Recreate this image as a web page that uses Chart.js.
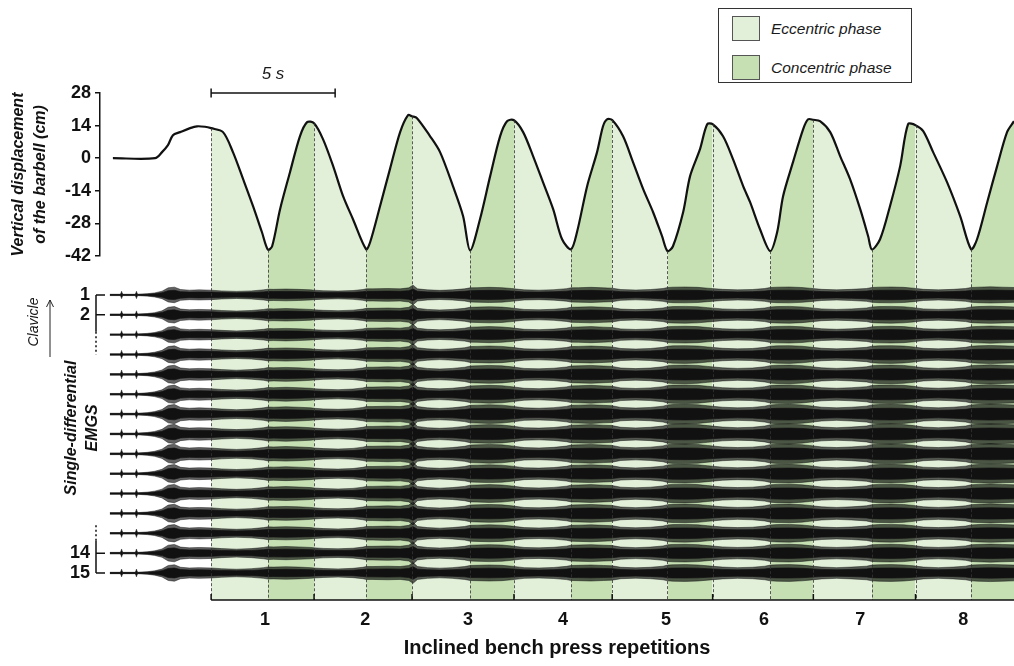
<!DOCTYPE html>
<html>
<head>
<meta charset="utf-8">
<script src="https://cdn.jsdelivr.net/npm/chart.js@4.4.1/dist/chart.umd.min.js"></script>
<style>
  body { margin: 0; background: #fff; }
  #wrap { position: relative; width: 1014px; height: 666px; font-family: 'Liberation Sans', Arial, sans-serif; color: #1a1a1a; }
  #chart { position: absolute; left: 0; top: 0; }
  .legend { position: absolute; left: 718px; top: 8px; width: 192px; height: 73px; border: 1.5px solid #333; background: #fff; }
  .legend .item { position: absolute; left: 13px; height: 25px; display: flex; align-items: center; font-style: italic; font-size: 15.5px; }
  .legend .sw { width: 26px; height: 23px; border: 1px solid #555; margin-right: 11px; }
  .scale-label { position: absolute; left: 250px; top: 64px; width: 46px; text-align: center; line-height: 20px; font-style: italic; font-size: 17px; }
  .clavicle { position: absolute; left: 3px; top: 314px; width: 60px; height: 16px; line-height: 16px; text-align: center; font-style: italic; font-size: 14px; transform: rotate(-90deg); }
</style>
</head>
<body>
<div id="wrap">
  <canvas id="chart" width="1014" height="666"></canvas>
  <div class="legend">
    <div class="item" style="top:7px"><span class="sw" style="background:#e2efd9"></span>Eccentric phase</div>
    <div class="item" style="top:46px"><span class="sw" style="background:#c6e0b4"></span>Concentric phase</div>
  </div>
  <div class="scale-label">5 s</div>
  <div class="clavicle">Clavicle</div>
</div>
<script>
// --- DATA ---
// barbell displacement (time in s, displacement in cm)
const dispT = [0.52, 2.22, 2.50, 2.74, 2.94, 3.23, 3.63, 3.91, 4.23, 4.48,
  4.96, 5.36, 5.77, 6.17, 6.53, 6.77, 6.94, 7.26, 7.66, 8.06, 8.35, 8.63,
  8.99, 9.40, 9.80, 10.20, 10.73, 10.89, 11.29, 11.69, 12.10, 12.42, 12.58,
  12.78, 13.31, 13.71, 14.23, 14.64, 14.92, 15.32, 15.73, 16.13, 16.41, 16.69,
  17.06, 17.46, 17.86, 18.27, 18.63, 18.99, 19.23, 19.64, 20.04, 20.28, 20.44, 20.65,
  21.09, 21.49, 21.90, 22.30, 22.66, 22.88, 23.10, 23.51, 23.79, 24.19, 24.48, 24.70,
  25.12, 25.52, 25.93, 26.21, 26.61, 27.02, 27.30, 27.54, 27.94, 28.35, 28.55, 28.76,
  29.03, 29.44, 29.84, 30.24, 30.65, 30.97, 31.12, 31.45, 31.85, 32.26, 32.58, 32.88,
  33.19, 33.59, 34.15, 34.68, 35.12, 35.36, 35.77, 36.17, 36.57, 36.85];
const dispV = [0, 0, 2.6, 5.6, 9.9, 11.2, 12.9, 13.7, 13.5, 12.9,
  11.2, 2.6, -9.0, -20.6, -31.8, -39.3, -37.8, -21.9, -6.0, 9.4, 15.5, 15.0,
  8.2, -3.4, -16.3, -26.2, -39.1, -36.1, -20.6, -4.7, 11.2, 18.5, 18.0,
  17.2, 9.4, 2.6, -12.0, -24.9, -39.6, -26.2, -7.7, 9.4, 15.9, 16.3,
  11.2, 0.9, -10.3, -21.9, -34.8, -39.1, -31.8, -12.0, 2.6, 13.7, 16.7, 16.4,
  9.4, -1.7, -13.3, -23.2, -33.5, -39.9, -37.8, -23.2, -7.7, 3.9, 14.6, 14.6,
  9.4, -0.4, -12.0, -18.9, -30.5, -39.9, -31.8, -16.3, -1.7, 12.5, 16.7, 16.5,
  15.9, 11.2, 0.9, -9.0, -21.9, -33.5, -39.2, -34.8, -20.6, -3.4, 14.6, 14.2,
  11.6, 2.6, -10.3, -24.9, -39.1, -34.8, -18.9, -3.4, 11.2, 15.9];

// phase borders (s): eccentric, concentric, eccentric, ...
const phaseBounds = [4.48, 6.77, 8.63, 10.73, 12.58, 14.92, 16.69, 18.99, 20.65,
  22.88, 24.70, 27.02, 28.76, 31.12, 32.88, 35.12, 36.85];
const repBounds = [4.48, 8.63, 12.58, 16.69, 20.65, 24.70, 28.76, 32.88];
const repLabelT = [6.65, 10.69, 14.84, 18.67, 22.82, 26.77, 30.65, 34.80];
const repLabels = ['1', '2', '3', '4', '5', '6', '7', '8'];

const dispTicks = [28, 14, 0, -14, -28, -42];

// EMG amplitude envelope (channel units), shared shape, scaled per channel
const emgT = [0.40, 0.83, 0.87, 0.91, 1.43, 1.47, 1.51, 1.90, 2.20, 2.50, 2.75, 3.00, 3.25, 3.60, 4.00, 4.48,
  4.90, 5.50, 6.10, 6.60, 6.77,
  7.00, 7.50, 8.00, 8.50, 8.63,
  9.00, 9.60, 10.20, 10.60, 10.73,
  11.00, 11.60, 12.10, 12.45, 12.62, 12.80,
  13.20, 13.70, 14.20, 14.70, 14.92,
  15.20, 15.70, 16.20, 16.60,
  17.10, 17.70, 18.30, 18.80, 18.99,
  19.30, 19.80, 20.30, 20.65,
  21.00, 21.60, 22.20, 22.70, 22.88,
  23.10, 23.60, 24.10, 24.50,
  25.10, 25.70, 26.30, 26.80, 27.02,
  27.30, 27.80, 28.30, 28.60,
  29.10, 29.70, 30.30, 30.90, 31.12,
  31.40, 31.90, 32.40, 32.80,
  33.20, 33.80, 34.40, 34.90, 35.12,
  35.40, 35.90, 36.40, 36.85];
const emgEnv = [0.04, 0.04, 0.22, 0.04, 0.04, 0.22, 0.04, 0.07, 0.12, 0.22, 0.42, 0.46, 0.32, 0.28, 0.30, 0.28,
  0.24, 0.21, 0.24, 0.30, 0.34,
  0.33, 0.35, 0.33, 0.30, 0.28,
  0.25, 0.23, 0.26, 0.32, 0.36,
  0.36, 0.38, 0.36, 0.42, 0.58, 0.36,
  0.30, 0.27, 0.30, 0.36, 0.42,
  0.43, 0.45, 0.43, 0.38,
  0.30, 0.28, 0.31, 0.37, 0.42,
  0.43, 0.45, 0.42, 0.40,
  0.32, 0.29, 0.32, 0.38, 0.44,
  0.46, 0.47, 0.45, 0.40,
  0.33, 0.30, 0.32, 0.38, 0.44,
  0.46, 0.47, 0.44, 0.40,
  0.33, 0.30, 0.33, 0.38, 0.44,
  0.46, 0.47, 0.45, 0.40,
  0.33, 0.30, 0.33, 0.38, 0.44,
  0.46, 0.48, 0.46, 0.44];
const emgChannels = [1, 2, 3, 4, 5, 6, 7, 8, 9, 10, 11, 12, 13, 14, 15];
const emgGain = [0.85, 0.9, 0.9, 0.95, 1.0, 1.0, 1.05, 1.05, 1.05, 1.0, 1.0, 1.0, 0.95, 0.95, 0.9];
const emgTickChannels = [1, 2, 14, 15];

// --- STYLE ---
const FONT = "'Liberation Sans', Arial, sans-serif";
const ECC = '#e2efd9';
const CON = '#c6e0b4';
const INK = '#111';
const X_MAX = 36.85;
const EMG_MIN = -0.96, EMG_MAX = 16.36;
const EMG_CORE = 0.6;   // share of the envelope drawn as solid core

// --- DATASETS ---
const datasets = [];
const dispPts = dispT.map((t, i) => ({ x: t, y: dispV[i] }));

for (let k = 0; k < phaseBounds.length - 1; k++) {
    const color = k % 2 === 0 ? ECC : CON;
    const t0 = phaseBounds[k], t1 = phaseBounds[k + 1];
    // phase band across the EMG panel
    datasets.push({
        yAxisID: 'yEmg', order: 5,
        data: [{ x: t0, y: EMG_MIN }, { x: t1, y: EMG_MIN }],
        borderWidth: 0, borderColor: 'transparent', pointRadius: 0,
        backgroundColor: color, fill: { value: EMG_MAX }
    });
    // phase area under the displacement curve
    datasets.push({
        yAxisID: 'y', order: 4, tension: 0.3,
        data: dispPts.filter(p => p.x >= t0 && p.x <= t1),
        borderWidth: 0, borderColor: 'transparent', pointRadius: 0,
        backgroundColor: color, fill: { value: -50 }
    });
}

function emgBand(ch, g, share, color, order) {
    datasets.push({
        yAxisID: 'yEmg', order,
        data: emgT.map((t, i) => ({ x: t, y: ch - emgEnv[i] * g * share })),
        borderColor: color, borderWidth: 0.7, pointRadius: 0, fill: false
    });
    datasets.push({
        yAxisID: 'yEmg', order,
        data: emgT.map((t, i) => ({ x: t, y: ch + emgEnv[i] * g * share })),
        borderColor: color, borderWidth: 0.7, pointRadius: 0,
        backgroundColor: color, fill: '-1'
    });
}
emgChannels.forEach((ch, c) => {
    emgBand(ch, emgGain[c], 1, 'rgba(0,0,0,0.62)', 3);
    emgBand(ch, emgGain[c], EMG_CORE, INK, 2);
});

datasets.push({
    yAxisID: 'y', order: 1, data: dispPts,
    borderColor: INK, borderWidth: 2.2, pointRadius: 0, fill: false, tension: 0.3
});

// 5 s scale bar
datasets.push({
    yAxisID: 'y', order: 0, clip: false,
    data: [{ x: phaseBounds[0], y: dispTicks[0] }, { x: phaseBounds[0] + 5, y: dispTicks[0] }],
    borderColor: INK, borderWidth: 1.5, fill: false,
    pointStyle: 'line', pointRotation: 90, pointRadius: 4.5, pointBorderWidth: 1.5, pointBorderColor: INK
});

// --- DECORATIONS (axis lines, dashed phase borders) ---
const decor = {
    id: 'decor',
    afterDatasetsDraw(chart) {
        const { ctx, chartArea, scales: { x, y, yEmg } } = chart;
        ctx.save();

        // dashed borders between phases
        ctx.strokeStyle = '#333';
        ctx.lineWidth = 0.8;
        ctx.setLineDash([3, 2]);
        phaseBounds.slice(0, -1).forEach(t => {
            const i = dispT.indexOf(t);
            const px = Math.round(x.getPixelForValue(t)) + 0.5;
            ctx.beginPath();
            ctx.moveTo(px, y.getPixelForValue(dispV[i]));
            ctx.lineTo(px, chartArea.bottom);
            ctx.stroke();
        });

        // bottom axis with upward ticks at repetition borders
        ctx.setLineDash([]);
        ctx.strokeStyle = INK;
        ctx.lineWidth = 1.5;
        const by = chartArea.bottom;
        ctx.beginPath();
        ctx.moveTo(x.getPixelForValue(repBounds[0]), by);
        ctx.lineTo(chartArea.right, by);
        repBounds.forEach(t => {
            const px = x.getPixelForValue(t);
            ctx.moveTo(px, by);
            ctx.lineTo(px, by - 6);
        });
        ctx.stroke();

        // EMG channel axis (broken bracket)
        const ax = chartArea.left - 4;
        ctx.beginPath();
        [[1, 2.85], [13.35, 15]].forEach(([a, b]) => {
            ctx.moveTo(ax, yEmg.getPixelForValue(a));
            ctx.lineTo(ax, yEmg.getPixelForValue(b));
        });
        emgTickChannels.forEach(ch => {
            const py = yEmg.getPixelForValue(ch);
            ctx.moveTo(ax, py);
            ctx.lineTo(ax + 9, py);
        });
        ctx.stroke();
        ctx.setLineDash([2, 2.5]);
        ctx.beginPath();
        [[2.85, 4.0], [12.6, 13.35]].forEach(([a, b]) => {
            ctx.moveTo(ax, yEmg.getPixelForValue(a));
            ctx.lineTo(ax, yEmg.getPixelForValue(b));
        });
        ctx.stroke();

        // clavicle arrow
        ctx.setLineDash([]);
        ctx.lineWidth = 1;
        ctx.strokeStyle = '#222';
        ctx.beginPath();
        ctx.moveTo(50, 357); ctx.lineTo(50, 300);
        ctx.moveTo(46.5, 307); ctx.lineTo(50, 300); ctx.lineTo(53.5, 307);
        ctx.stroke();

        ctx.restore();
    }
};

const tickFont = { family: FONT, size: 18, weight: 'bold' };

new Chart(document.getElementById('chart'), {
    type: 'line',
    data: { datasets },
    options: {
        responsive: false,
        animation: false,
        devicePixelRatio: 1,
        layout: { autoPadding: false, padding: { top: 93, left: 0, right: 0, bottom: 0 } },
        plugins: { legend: { display: false }, tooltip: { enabled: false } },
        scales: {
            x: {
                type: 'linear', position: 'bottom', min: 0, max: X_MAX,
                afterBuildTicks: s => { s.ticks = repLabelT.map(v => ({ value: v })); },
                afterFit: s => { s.height = 66; },
                ticks: { callback: (v, i) => repLabels[i], font: tickFont, color: INK, padding: 9, maxRotation: 0, autoSkip: false },
                grid: { display: false, drawTicks: false },
                border: { display: false },
                title: { display: true, text: 'Inclined bench press repetitions', color: INK,
                    font: { family: FONT, size: 20, weight: 'bold' }, padding: { top: 0, bottom: 6 } }
            },
            y: {
                type: 'linear', position: 'left', stack: 'left', stackWeight: 163, weight: 2,
                min: -42, max: 28,
                afterBuildTicks: s => { s.ticks = dispTicks.map(v => ({ value: v })); },
                afterFit: s => { s.width = 100; },
                ticks: { font: tickFont, color: INK, padding: 4, autoSkip: false },
                grid: { display: true, drawOnChartArea: false, drawTicks: true, tickLength: 5, color: INK, lineWidth: 1.5 },
                border: { display: true, color: INK, width: 1.5 },
                title: { display: true, text: ['Vertical displacement', 'of the barbell (cm)'], color: INK,
                    font: { family: FONT, size: 16, weight: 'bold', style: 'italic', lineHeight: 22 / 16 },
                    padding: { top: 8, bottom: 0 } }
            },
            yEmg: {
                type: 'linear', position: 'left', stack: 'left', stackWeight: 344, weight: 1,
                reverse: true, min: EMG_MIN, max: EMG_MAX,
                afterBuildTicks: s => { s.ticks = emgTickChannels.map(v => ({ value: v })); },
                afterFit: s => { s.width = 100; },
                ticks: { font: tickFont, color: INK, padding: 10, autoSkip: false, callback: v => String(v) },
                grid: { display: false, drawTicks: false },
                border: { display: false },
                title: { display: true, text: ['Single-differential', 'EMGS'], color: INK,
                    font: { family: FONT, size: 16, weight: 'bold', style: 'italic', lineHeight: 21 / 16 },
                    padding: { top: 61, bottom: 0 } }
            }
        }
    },
    plugins: [decor]
});
</script>
</body>
</html>
